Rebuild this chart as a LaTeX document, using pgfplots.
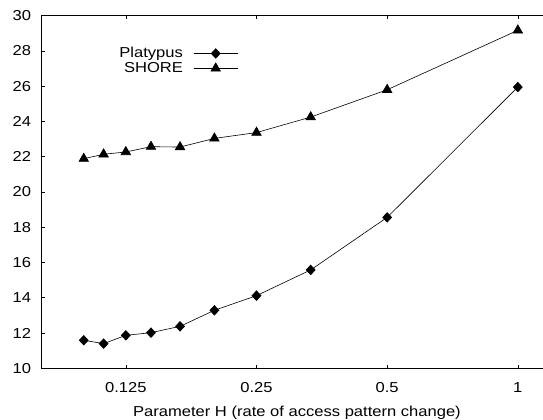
\documentclass[border=0pt]{standalone}
\usepackage{fontspec}
\setmainfont{Liberation Sans}[FakeStretch=1.15]
\usepackage{pgfplots}
\pgfplotsset{compat=1.18}
\begin{document}
\fontsize{14.4bp}{16.7bp}\selectfont
\begin{tikzpicture}
\useasboundingbox (-41.7bp,-51.7bp) rectangle (501.3bp,368.3bp);
\clip (-41.7bp,-51.7bp) rectangle (501.3bp,368.3bp);
\begin{axis}[
  anchor=south west, at={(0,0)},
  scale only axis,
  width=510.5bp, height=352.6bp,
  xmode=log, log basis x=2,
  xmin=0.08, xmax=1.2,
  ymin=10, ymax=30,
  xtick={0.125,0.25,0.5,1},
  xticklabels={0.125,0.25,0.5,1},
  ytick={10,12,...,30},
  minor tick num=0,
  tick align=inside,
  major tick length=3bp,
  axis line style={line width=1.1bp},
  tick style={line width=0.6bp, black},
  /pgf/number format/assume math mode=true,
  yticklabel style={anchor=east, inner sep=0pt, xshift=-10.5bp},
  xticklabel style={anchor=north, inner sep=0pt, yshift=-14bp},
  xlabel={Parameter H (rate of access pattern change)},
  xlabel style={at={(axis description cs:0.5,0)}, anchor=base, inner sep=0pt, yshift=-47.7bp},
  legend cell align=right,
  legend plot pos=right,
  legend style={draw=none, fill=none, at={(axis description cs:0.385,0.872)}, anchor=east,
    row sep=-0.5bp, inner sep=0pt, nodes={inner sep=1.5bp}},
  legend image code/.code={\path (0bp,0bp); \draw[#1, mark repeat=2, mark phase=2] plot coordinates {(9bp,0bp) (31bp,0bp) (53bp,0bp)};},
]
\addplot[black, line width=0.6bp, mark=diamond*, mark size=4.8bp, mark options={solid, xscale=1.25}] coordinates {
(0.1,11.59) (0.1111,11.40) (0.125,11.87) (0.142857,12.02) (0.166667,12.38)
(0.2,13.29) (0.25,14.12) (0.333333,15.58) (0.5,18.56) (1,25.95)
};
\addlegendentry{Platypus}
\addplot[black, line width=0.6bp, mark=triangle*, mark size=5.5bp, mark options={solid}] coordinates {
(0.1,21.89) (0.1111,22.14) (0.125,22.27) (0.142857,22.57) (0.166667,22.55)
(0.2,23.04) (0.25,23.37) (0.333333,24.25) (0.5,25.80) (1,29.17)
};
\addlegendentry{SHORE}
\end{axis}
\end{tikzpicture}
\end{document}
